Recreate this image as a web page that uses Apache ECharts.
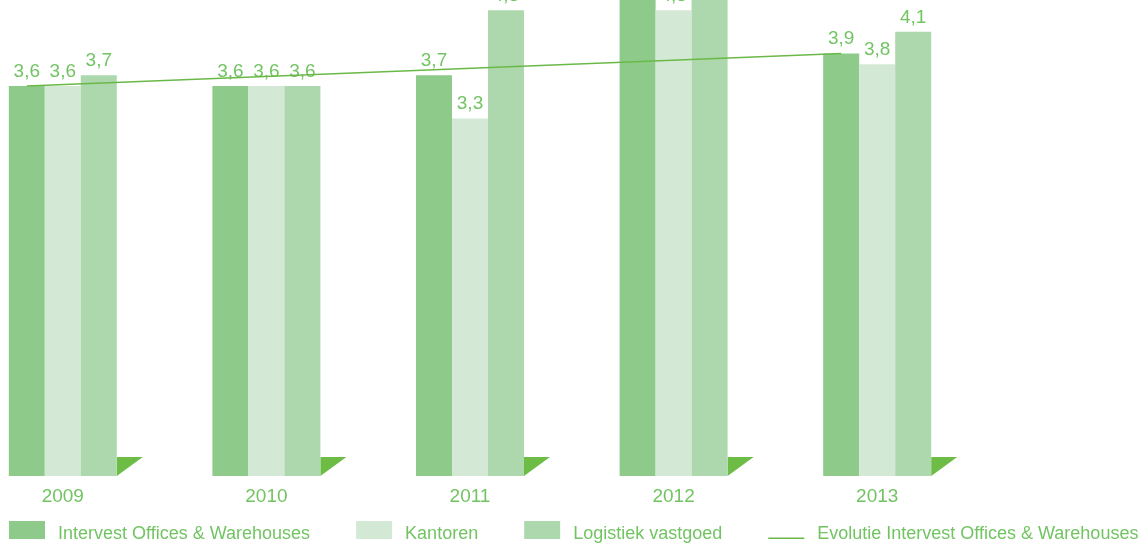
<!DOCTYPE html>
<html>
<head>
<meta charset="utf-8">
<script src="https://cdn.jsdelivr.net/npm/echarts@6/dist/echarts.min.js"></script>
<style>
  html, body { margin: 0; padding: 0; background: #fff; }
  #chart { width: 1147px; height: 544px; }
</style>
</head>
<body>
<div id="chart"></div>
<script>
// Years on the category axis
const years = ['2009', '2010', '2011', '2012', '2013'];

// Values per segment (years)
const intervest = [3.6, 3.6, 3.7, 4.5, 3.9];
const kantoren = [3.6, 3.6, 3.3, 4.3, 3.8];
const logistiek = [3.7, 3.6, 4.3, 4.7, 4.1];

// Trend line of the total portfolio: first and last year only
const evolutie = [3.6, null, null, null, 3.9];

const seriesNames = [
  'Intervest Offices & Warehouses',
  'Kantoren',
  'Logistiek vastgoed',
  'Evolutie Intervest Offices & Warehouses'
];

const GREEN_TEXT = '#72c463';
const FONT = 'Liberation Sans';
const BAR_W = 36;

const fmt = p => String(p.value).replace('.', ',');

function barSeries(name, data, color) {
  return {
    name: name,
    type: 'bar',
    data: data,
    barWidth: BAR_W,
    barGap: '0%',
    itemStyle: { color: color },
    label: {
      show: true,
      position: 'top',
      distance: 5,
      color: GREEN_TEXT,
      fontFamily: FONT,
      fontSize: 19,
      formatter: fmt
    },
    z: 2
  };
}

const chart = echarts.init(document.getElementById('chart'), null, { renderer: 'canvas' });

chart.setOption({
  animation: false,
  backgroundColor: '#ffffff',
  grid: {
    left: -39, right: 168, top: -65.7, bottom: 68,
    containLabel: false,
    outerBoundsMode: 'none'
  },
  xAxis: {
    type: 'category',
    data: years,
    boundaryGap: true,
    axisLine: { show: false },
    axisTick: { show: false },
    axisLabel: { color: GREEN_TEXT, fontFamily: FONT, fontSize: 19, margin: 11 }
  },
  yAxis: {
    type: 'value',
    min: 0,
    max: 5,
    show: false,
    splitLine: { show: false }
  },
  legend: {
    left: 9,
    top: 521,
    padding: 0,
    itemWidth: 36,
    itemHeight: 18,
    itemGap: 46,
    formatter: name => '{t|' + name + '}',
    textStyle: {
      color: GREEN_TEXT,
      fontFamily: FONT,
      fontSize: 18,
      rich: {
        t: { color: GREEN_TEXT, fontFamily: FONT, fontSize: 18, padding: [8, 0, 0, 8] }
      }
    },
    selectedMode: false,
    data: [
      { name: seriesNames[0], icon: 'rect' },
      { name: seriesNames[1], icon: 'rect' },
      { name: seriesNames[2], icon: 'rect' },
      { name: seriesNames[3], icon: 'path://M0,0h36v0.01h-36z M0,16.5h36v1.5h-36z' }
    ]
  },
  series: [
    barSeries(seriesNames[0], intervest, '#8ecb8a'),
    barSeries(seriesNames[1], kantoren, '#d4e9d5'),
    barSeries(seriesNames[2], logistiek, '#add8ad'),
    {
      // green floor wedge to the right of every year group
      type: 'custom',
      silent: true,
      data: years.map((y, i) => [i, 0]),
      renderItem: function (params, api) {
        const base = api.coord([api.value(0), 0]);
        const right = base[0] + BAR_W * 1.5;
        const y = base[1];
        return {
          type: 'polygon',
          shape: { points: [[right, y - 19], [right + 26, y - 19], [right, y]] },
          style: { fill: '#6cbc46' }
        };
      },
      z: 1
    },
    {
      // straight trend line through the first and last year, on the Intervest bars
      name: seriesNames[3],
      type: 'custom',
      silent: true,
      itemStyle: { color: '#6ab947' },
      data: evolutie.map((v, i) => [i, v]),
      renderItem: function (params, api) {
        if (params.dataIndex !== 0) return;
        const pts = [];
        evolutie.forEach((v, i) => {
          if (v == null) return;
          const c = api.coord([i, v]);
          pts.push([c[0] - BAR_W, c[1]]);
        });
        return {
          type: 'polyline',
          shape: { points: pts },
          style: { stroke: '#6ab947', lineWidth: 1.5, fill: null }
        };
      },
      z: 5
    }
  ]
});
</script>
</body>
</html>
